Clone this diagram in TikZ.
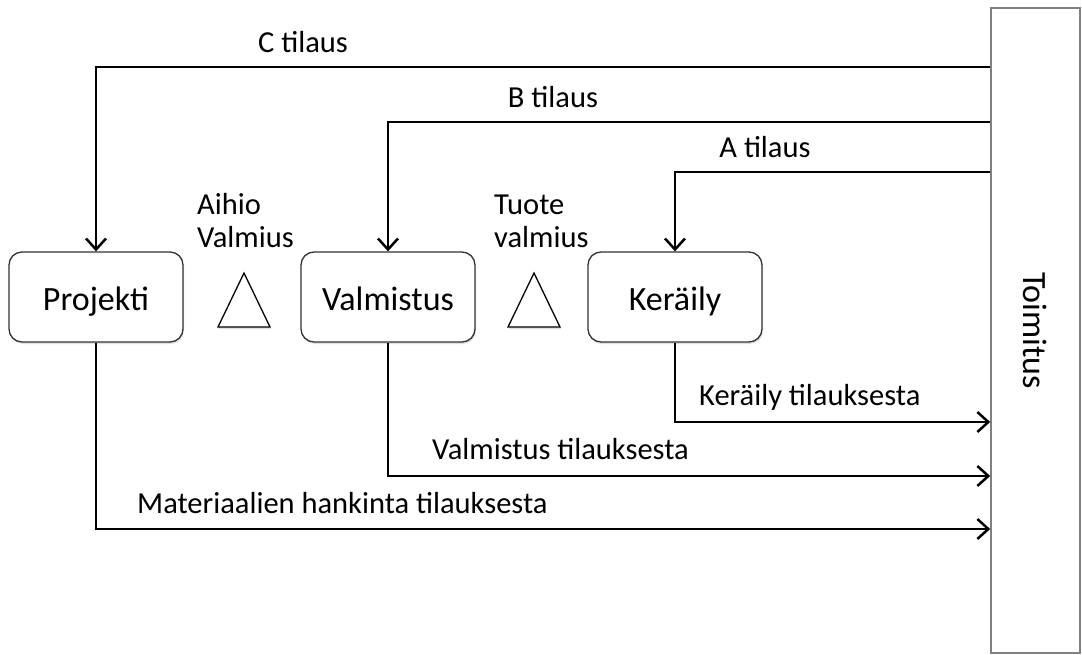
\documentclass[tikz,border=0pt]{standalone}
\usepackage{fontspec}
\setmainfont{Carlito}
\usetikzlibrary{arrows.meta,shadows}

\begin{document}
\begin{tikzpicture}[x = 1pt, y = -1pt]
        \tikzstyle{every node} = [font = \fontsize{30.5}{33}\selectfont, inner sep = 0pt]
        \tikzstyle{stage} = [rectangle, rounded corners = 13pt, draw = black!80, line width = 1.3pt, fill = white, minimum width = 174pt, minimum height = 90pt, text height = 27pt, text depth = 0pt, font = \fontsize{34}{36}\selectfont, drop shadow = {opacity = 0.25, shadow xshift = 1pt, shadow yshift = -2pt}]
        \tikzstyle{flow} = [line width = 2.5pt, -{Straight Barb[length = 11pt, width = 20pt, line width = 2.5pt]}]
        \useasboundingbox (0,0) rectangle (1082,655);

        \node[draw = black!50, line width = 1.6pt, fill = white, minimum width = 89pt, minimum height = 645pt, font = \fontsize{34}{36}\selectfont] (Toimitus) at (1035.5,330.5) {\rotatebox{-90}{Toimitus}};

        \node[stage] (Projekti) at (96,297) {Projekti};
        \node[stage] (Valmistus) at (388,297) {Valmistus};
        \node[stage] (Keraily) at (675,297) {Keräily};

        % inventory points
        \foreach \tx in {244,534}
            \draw[line width = 1.3pt, fill = white, drop shadow = {opacity = 0.25, shadow xshift = 1pt, shadow yshift = -2pt}] (\tx-26,327) -- (\tx,273) -- (\tx+26,327) -- cycle;
        \node[align = left, anchor = west] (Aihio) at (197,221) {Aihio\\Valmius};
        \node[align = left, anchor = west] (Tuote) at (494,221) {Tuote\\valmius};

        % orders from Toimitus
        \coordinate (Cin) at (0,67);
        \coordinate (Bin) at (0,122);
        \coordinate (Ain) at (0,172);
        \draw [flow] (Toimitus.west |- Cin) -| (Projekti.north);
        \draw [flow] (Toimitus.west |- Bin) -| (Valmistus.north);
        \draw [flow] (Toimitus.west |- Ain) -| (Keraily.north);
        \node (Ctilaus) at (303,42) {C tilaus};
        \node (Btilaus) at (553,97) {B tilaus};
        \node (Atilaus) at (765,147) {A tilaus};

        % deliveries to Toimitus
        \coordinate (Kout) at (0,422);
        \coordinate (Vout) at (0,476);
        \coordinate (Pout) at (0,529);
        \draw [flow] (Keraily.south) |- (Toimitus.west |- Kout);
        \draw [flow] (Valmistus.south) |- (Toimitus.west |- Vout);
        \draw [flow] (Projekti.south) |- (Toimitus.west |- Pout);
        \node[anchor = west] (Kerailytil) at (699,397) {Keräily tilauksesta};
        \node[anchor = west] (Valmistustil) at (432,449) {Valmistus tilauksesta};
        \node[anchor = west] (Materiaalit) at (137,503) {Materiaalien hankinta tilauksesta};

    \end{tikzpicture}
\end{document}
